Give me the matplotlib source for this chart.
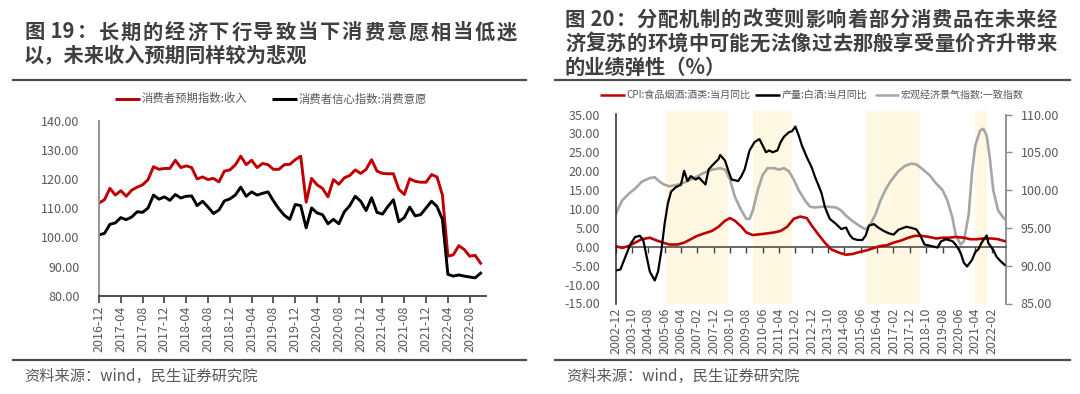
import matplotlib
matplotlib.use('Agg')
import matplotlib.pyplot as plt
from matplotlib.lines import Line2D
import numpy as np
import pandas as pd

plt.rcParams['font.family'] = ['Noto Sans CJK SC', 'DejaVu Sans']

# ---------------- data: left chart ----------------
left_title = ["图 19：长期的经济下行导致当下消费意愿相当低迷",
              "以，未来收入预期同样较为悲观"]
left_series_names = ["消费者预期指数:收入", "消费者信心指数:消费意愿"]
left_months = pd.period_range('2016-12', '2022-10', freq='M').strftime('%Y-%m').tolist()
expect_income = [111.8, 112.9, 116.8, 114.5, 116.0, 114.1, 116.2, 117.2, 118.0, 119.8,
                 124.2, 123.3, 123.6, 123.6, 126.4, 123.9, 124.5, 123.9, 120.0, 120.7,
                 119.8, 120.2, 119.0, 122.7, 123.1, 124.8, 127.8, 124.9, 126.4, 123.9,
                 125.3, 124.9, 123.3, 123.3, 124.9, 125.0, 126.6, 127.8, 112.1, 120.2,
                 118.0, 116.8, 113.9, 119.8, 118.2, 120.4, 121.2, 123.1, 121.9, 123.3,
                 126.6, 122.7, 121.9, 121.8, 121.8, 116.5, 114.7, 120.1, 119.2, 118.9,
                 118.9, 121.5, 120.7, 114.5, 93.6, 94.1, 97.2, 95.9, 93.6, 93.9, 91.2]
consume_will = [100.9, 101.4, 104.5, 105.0, 106.8, 106.1, 107.0, 108.8, 108.6, 110.1,
                114.5, 113.1, 113.9, 112.7, 114.7, 113.5, 114.1, 114.2, 110.9, 112.4,
                110.4, 108.2, 109.4, 112.5, 113.2, 114.5, 117.2, 114.1, 115.6, 114.5,
                115.1, 115.6, 112.5, 109.8, 107.6, 106.2, 111.3, 110.9, 103.3, 110.1,
                108.4, 107.8, 104.7, 106.2, 104.7, 108.8, 110.9, 114.1, 112.4, 109.2,
                113.6, 108.6, 108.0, 110.6, 112.9, 105.4, 106.8, 110.4, 107.4, 107.8,
                110.1, 112.4, 110.6, 106.2, 87.4, 86.8, 87.2, 86.8, 86.5, 86.2, 87.8]
left_tick_labels = left_months[::4]
left_yticks = [80, 90, 100, 110, 120, 130, 140]

# ---------------- data: right chart ----------------
right_title = ["图 20：分配机制的改变则影响着部分消费品在未来经",
               "济复苏的环境中可能无法像过去那般享受量价齐升带来",
               "的业绩弹性（%）"]
right_series_names = ["CPI:食品烟酒:酒类:当月同比", "产量:白酒:当月同比", "宏观经济景气指数:一致指数"]
right_start = '2002-12'
right_end = '2022-10'

cpi_dates = ['2002-12', '2003-04', '2003-08', '2003-12', '2004-04', '2004-09', '2005-01',
             '2005-05', '2005-09', '2006-02', '2006-06', '2006-10', '2007-02', '2007-06',
             '2007-11', '2008-03', '2008-07', '2008-10', '2009-01', '2009-05', '2009-08',
             '2009-12', '2010-04', '2010-08', '2011-01', '2011-05', '2011-09', '2012-01',
             '2012-05', '2012-09', '2012-12', '2013-04', '2013-08', '2013-12', '2014-05',
             '2014-09', '2015-01', '2015-05', '2015-10', '2016-02', '2016-06', '2016-10',
             '2017-02', '2017-07', '2017-11', '2018-03', '2018-07', '2018-12', '2019-04',
             '2019-08', '2019-12', '2020-04', '2020-09', '2021-01', '2021-05', '2021-09',
             '2022-02', '2022-06', '2022-10']
cpi_values = [0.2, -0.3, 0.2, 1.1, 2.0, 2.4, 1.7, 1.1, 0.6, 0.6, 1.1, 2.0, 2.9, 3.5,
              4.2, 5.3, 6.9, 7.6, 6.9, 5.3, 3.8, 3.1, 3.3, 3.5, 3.8, 4.2, 5.3, 7.4,
              8.0, 7.6, 5.6, 3.3, 1.1, -0.7, -1.6, -2.1, -1.9, -1.4, -0.9, -0.3, 0.2,
              0.4, 1.1, 1.7, 2.4, 2.9, 2.9, 2.6, 2.2, 2.4, 2.4, 2.6, 2.4, 2.0, 2.0,
              2.2, 2.2, 2.0, 1.5]

baijiu_dates = ['2002-12', '2003-03', '2003-07', '2003-09', '2003-12', '2004-03', '2004-05',
                '2004-07', '2004-09', '2004-12', '2005-02', '2005-04', '2005-06', '2005-08',
                '2005-10', '2006-01', '2006-04', '2006-06', '2006-08', '2006-10', '2007-01',
                '2007-03', '2007-07', '2007-09', '2007-12', '2008-03', '2008-04', '2008-07',
                '2008-09', '2008-11', '2009-03', '2009-05', '2009-07', '2009-10', '2010-01',
                '2010-04', '2010-06', '2010-08', '2010-10', '2010-12', '2011-03', '2011-05',
                '2011-07', '2011-10', '2011-12', '2012-02', '2012-04', '2012-06', '2012-09',
                '2012-12', '2013-02', '2013-04', '2013-06', '2013-08', '2013-11', '2014-03',
                '2014-06', '2014-09', '2014-11', '2015-01', '2015-04', '2015-07', '2015-09',
                '2015-11', '2016-02', '2016-05', '2016-08', '2016-11', '2017-02', '2017-05',
                '2017-08', '2017-10', '2018-01', '2018-04', '2018-06', '2018-09', '2019-01',
                '2019-05', '2019-07', '2019-10', '2020-02', '2020-04', '2020-07', '2020-09',
                '2020-11', '2021-02', '2021-04', '2021-06', '2021-08', '2021-11', '2021-12',
                '2022-03', '2022-05', '2022-07', '2022-09', '2022-10']
baijiu_values = [-6.3, -6.0, -1.6, 0.6, 2.6, 2.9, 1.7, -2.5, -6.6, -8.9, -6.6, -1.2, 6.0, 11.4,
                 14.6, 15.8, 16.4, 20.1, 17.4, 18.7, 17.8, 18.3, 16.5, 20.5, 21.9, 23.2, 24.3,
                 22.8, 20.1, 17.8, 17.4, 18.7, 20.5, 25.5, 27.7, 28.5, 26.8, 25.0, 25.5, 25.0,
                 25.5, 27.7, 29.1, 30.3, 30.6, 31.8, 29.5, 26.8, 23.7, 21.0, 18.5, 16.4, 14.2,
                 10.6, 7.4, 6.0, 4.7, 5.1, 3.3, 2.2, 1.8, 1.8, 3.0, 5.6, 6.0, 5.0, 4.2, 3.6,
                 3.2, 4.5, 5.0, 5.3, 5.0, 4.6, 3.3, 0.6, 0.2, -0.2, 1.4, 2.0, 1.5, 0.6, -1.5,
                 -4.2, -5.2, -3.5, -1.4, -0.6, 1.2, 3.0, 1.0, -0.8, -2.6, -3.6, -4.4, -4.8]

coincident_dates = ['2002-12', '2003-04', '2003-08', '2003-12', '2004-04', '2004-09', '2004-12',
                    '2005-03', '2005-06', '2005-09', '2006-02', '2006-06', '2006-10', '2007-02',
                    '2007-06', '2007-11', '2008-04', '2008-07', '2008-10', '2009-01', '2009-05',
                    '2009-08', '2009-10', '2009-12', '2010-03', '2010-06', '2010-09', '2011-01',
                    '2011-04', '2011-07', '2011-10', '2012-01', '2012-04', '2012-08', '2012-11',
                    '2013-02', '2013-06', '2013-10', '2014-03', '2014-06', '2014-09', '2015-01',
                    '2015-05', '2015-09', '2015-12', '2016-03', '2016-06', '2016-09', '2016-12',
                    '2017-05', '2017-09', '2018-01', '2018-04', '2018-07', '2018-12', '2019-04',
                    '2019-08', '2019-11', '2020-02', '2020-04', '2020-07', '2020-09', '2020-12',
                    '2021-02', '2021-04', '2021-07', '2021-09', '2021-11', '2022-01', '2022-03',
                    '2022-06', '2022-09', '2022-10']
coincident_values = [96.8, 98.6, 99.5, 100.2, 101.1, 101.6, 101.7, 101.1, 100.7, 100.5,
                     100.7, 101.0, 101.4, 101.8, 102.3, 102.7, 102.9, 102.7, 101.4, 99.1,
                     97.3, 96.2, 96.2, 97.3, 100.0, 102.0, 102.9, 102.9, 102.7, 102.9,
                     102.5, 101.4, 100.0, 98.6, 97.8, 97.7, 97.8, 97.8, 97.7, 97.3,
                     96.6, 95.9, 95.3, 94.8, 95.5, 96.8, 98.6, 100.0, 101.1, 102.5,
                     103.2, 103.5, 103.4, 102.9, 102.0, 100.9, 100.0, 98.6, 96.4, 94.1,
                     92.8, 93.2, 96.8, 102.3, 105.9, 107.9, 108.1, 107.2, 104.1, 100.0,
                     97.3, 96.4, 96.2]

shade_starts = ['2005-07', '2009-12', '2015-09', '2021-04']
shade_ends = ['2008-09', '2011-12', '2018-06', '2021-11']

right_tick_labels = pd.period_range(right_start, right_end, freq='10M').strftime('%Y-%m').tolist()
right_left_yticks = [-15, -10, -5, 0, 5, 10, 15, 20, 25, 30, 35]
right_right_yticks = [85, 90, 95, 100, 105, 110]

source_text = "资料来源：wind，民生证券研究院"


def month_index(dates, start=right_start):
    p = pd.PeriodIndex(dates, freq='M')
    s = pd.Period(start, freq='M')
    return np.array([(q - s).n for q in p], dtype=float)


# ---------------- figure ----------------
W, H = 1080, 394
fig = plt.figure(figsize=(W / 100, H / 100), dpi=100)
fig.patch.set_facecolor('white')
renderer = fig.canvas.get_renderer()


def fx(px):
    return px / W


def fy(py):
    return 1 - py / H


TXT = '#595959'
TITLE_C = '#3f3f3f'
RED = '#C00000'
GRAY = '#A6A6A6'
TITLE_FS = 14.6


def tokens_of(s):
    toks = []
    for ch in s:
        if toks and ch.isascii() and toks[-1][-1].isascii():
            toks[-1] += ch
        else:
            toks.append(ch)
    return toks


def title_line(x0, y, s, x1=None):
    """Draw a bold title line; if x1 given, justify it to end at x1 (pixels)."""
    if x1 is None:
        fig.text(fx(x0), fy(y), s, fontsize=TITLE_FS, fontweight='bold',
                 color=TITLE_C, va='center', ha='left')
        return
    toks = tokens_of(s)
    widths = []
    for tk in toks:
        t = fig.text(0, 0, tk, fontsize=TITLE_FS, fontweight='bold')
        widths.append(t.get_window_extent(renderer).width)
        t.remove()
    gap = (x1 - x0 - sum(widths)) / max(len(toks) - 1, 1)
    x = x0
    for tk, w in zip(toks, widths):
        fig.text(fx(x), fy(y), tk, fontsize=TITLE_FS, fontweight='bold',
                 color=TITLE_C, va='center', ha='left')
        x += w + gap


# titles (justified like the source document)
title_line(24, 32, left_title[0], 517)
title_line(24, 55.5, left_title[1])
title_line(565, 19, right_title[0], 1057)
title_line(565, 43, right_title[1], 1057)
title_line(565, 67, right_title[2])

# separator lines
for (x0, x1) in [(13, 526), (555, 1070)]:
    for yy in (80, 359.5):
        fig.add_artist(Line2D([fx(x0), fx(x1)], [fy(yy), fy(yy)], color='#4d4d4d', lw=1.6,
                              transform=fig.transFigure))

# sources
fig.text(fx(24), fy(376), source_text, fontsize=11, color=TXT, va='center', ha='left')
fig.text(fx(566), fy(376), source_text, fontsize=11, color=TXT, va='center', ha='left')


def legend_item(x0, x1, y, color, label, fs, lw):
    fig.add_artist(Line2D([fx(x0), fx(x1)], [fy(y), fy(y)], color=color, lw=lw,
                          transform=fig.transFigure, solid_capstyle='butt'))
    fig.text(fx(x1 + 1.5), fy(y), label, fontsize=fs, color=TXT, va='center', ha='left')


# left legend
legend_item(115, 140, 98.7, RED, left_series_names[0], 8.2, 2.2)
legend_item(272, 297, 98.7, 'black', left_series_names[1], 8.2, 2.2)
# right legend
legend_item(600, 625, 95, RED, right_series_names[0], 7.2, 1.8)
legend_item(755, 780, 95, 'black', right_series_names[1], 7.2, 1.8)
legend_item(875, 899, 95, GRAY, right_series_names[2], 7.2, 1.8)

# ---------------- left chart ----------------
axL = fig.add_axes([fx(99), fy(296), fx(485.5) - fx(99), fy(120.5) - fy(296)])
xl = np.arange(len(left_months))
axL.plot(xl, expect_income, color=RED, lw=2.1, solid_joinstyle='round')
axL.plot(xl, consume_will, color='black', lw=2.1, solid_joinstyle='round')
axL.set_xlim(0, 70.9)
axL.set_ylim(80, 140)
axL.set_yticks(left_yticks)
axL.set_yticklabels([f'{v:.2f}' for v in left_yticks], fontsize=9, color=TXT)
axL.set_xticks(xl[::4])
axL.set_xticklabels(left_tick_labels, rotation=90, fontsize=9, color=TXT)
axL.tick_params(axis='y', length=0, pad=14)
axL.tick_params(axis='x', length=5, width=1.2, color='#404040', direction='out', pad=2)
for s in ('top', 'right'):
    axL.spines[s].set_visible(False)
axL.spines['left'].set_color('#8c8c8c')
axL.spines['left'].set_linewidth(1.3)
axL.spines['bottom'].set_color('#404040')
axL.spines['bottom'].set_linewidth(1.3)
axL.set_facecolor('none')

# ---------------- right chart ----------------
axR = fig.add_axes([fx(615.5), fy(303.5), fx(1005.5) - fx(615.5), fy(114.5) - fy(303.5)])
axR2 = axR.twinx()
axR.set_zorder(axR2.get_zorder() + 1)
axR.patch.set_visible(False)

n_months = (pd.Period(right_end, freq='M') - pd.Period(right_start, freq='M')).n
for s0, s1 in zip(shade_starts, shade_ends):
    a = month_index([s0])[0]
    b = month_index([s1])[0]
    axR2.axvspan(a, b, ymin=0, ymax=1.02, color='#FFF7E1', lw=0, clip_on=False, zorder=0)

axR2.plot(month_index(coincident_dates), coincident_values, color=GRAY, lw=1.9,
          solid_joinstyle='round')
axR.plot(month_index(cpi_dates), cpi_values, color=RED, lw=1.9, solid_joinstyle='round')
axR.plot(month_index(baijiu_dates), baijiu_values, color='black', lw=1.6,
         solid_joinstyle='round')

axR.set_xlim(0, n_months + 0.5)
axR2.set_xlim(0, n_months + 0.5)
axR.set_ylim(-15, 35)
axR2.set_ylim(85, 110)
axR.set_yticks(right_left_yticks)
axR.set_yticklabels([f'{v:.2f}' for v in right_left_yticks], fontsize=9, color=TXT)
axR2.set_yticks(right_right_yticks)
axR2.set_yticklabels([f'{v:.2f}' for v in right_right_yticks], fontsize=9, color=TXT)
xt = np.arange(0, n_months + 1, 10)
axR.set_xticks(xt)
axR.set_xticklabels(right_tick_labels[:len(xt)], rotation=90, fontsize=9, color=TXT)
axR.tick_params(axis='x', length=0, pad=3)
axR.tick_params(axis='y', length=0, pad=11)
axR2.tick_params(axis='y', length=4, width=1, color='#8c8c8c', direction='out', pad=7)
for ax in (axR, axR2):
    for s in ('top', 'bottom'):
        ax.spines[s].set_visible(False)
axR.spines['right'].set_visible(False)
axR.spines['left'].set_color('#262626')
axR.spines['left'].set_linewidth(1.1)
axR2.spines['left'].set_visible(False)
axR2.spines['right'].set_color('#8c8c8c')
axR2.spines['right'].set_linewidth(1.3)

# zero line with small ticks
zero_frac = (0 - (-15)) / (35 - (-15))
sec = axR.secondary_xaxis(zero_frac)
sec.set_xticks(xt)
sec.set_xticklabels([])
sec.tick_params(axis='x', length=4, width=1, color='#404040', direction='out')
sec.spines['bottom'].set_color('#404040')
sec.spines['bottom'].set_linewidth(1.1)

fig.savefig('out.png', dpi=100, facecolor='white')
